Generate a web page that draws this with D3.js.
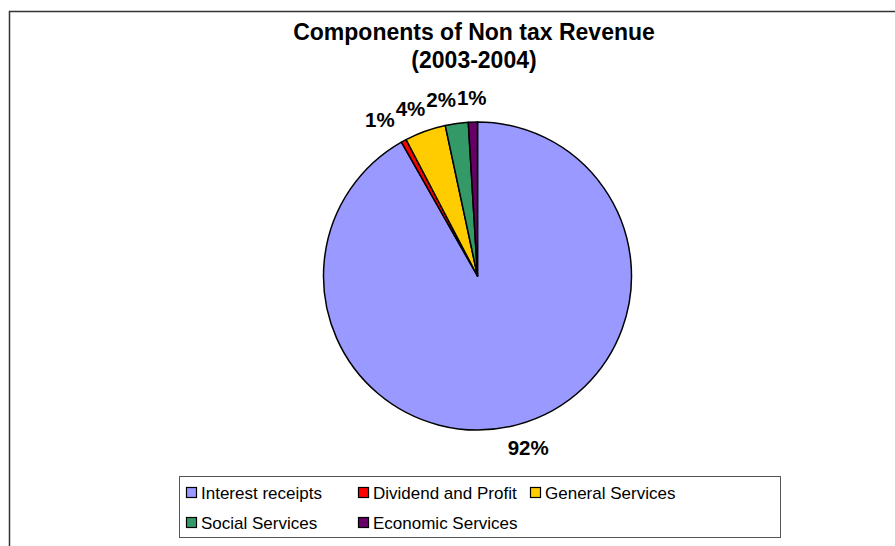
<!DOCTYPE html>
<html>
<head>
<meta charset="utf-8">
<script src="https://cdn.jsdelivr.net/npm/d3@7"></script>
<style>
  body { margin: 0; background: #fff; }
  text { font-family: "Liberation Sans", Arial, sans-serif; }
</style>
</head>
<body>
<div id="chart"></div>
<script>
// Datos (porcentaje de cada componente)
var categories = ["Interest receipts", "Dividend and Profit", "General Services", "Social Services", "Economic Services"];
var values = [91.5, 0.55, 4.3, 2.4, 0.95];
var colors = ["#9999FF", "#FF0000", "#FFCC00", "#339966", "#660066"];
var titleLines = ["Components of Non tax Revenue", "(2003-2004)"];

var width = 895, height = 546;
var cx = 477.5, cy = 276, radius = 154;

var svg = d3.select("#chart").append("svg")
    .attr("width", width)
    .attr("height", height);

// marco exterior del grafico
svg.append("rect")
    .attr("x", 9.5).attr("y", 11.5)
    .attr("width", 1000).attr("height", 1000)
    .attr("fill", "none")
    .attr("stroke", "#333")
    .attr("stroke-width", 1.5);

// titulo
svg.selectAll(".title")
    .data(titleLines)
  .enter().append("text")
    .attr("class", "title")
    .attr("x", 474)
    .attr("y", (d, i) => 40 + i * 28)
    .attr("text-anchor", "middle")
    .attr("font-size", "23px")
    .attr("font-weight", "bold")
    .text(d => d);

var total = d3.sum(values);
var data = categories.map((c, i) => ({name: c, value: values[i], color: colors[i]}));

var pie = d3.pie()
    .sort(null)
    .value(d => d.value);

var arc = d3.arc()
    .innerRadius(0)
    .outerRadius(radius);

var g = svg.append("g")
    .attr("transform", "translate(" + cx + "," + cy + ")");

var arcs = pie(data);

g.selectAll(".slice")
    .data(arcs)
  .enter().append("path")
    .attr("class", "slice")
    .attr("d", arc)
    .attr("fill", d => d.data.color)
    .attr("stroke", "#000")
    .attr("stroke-width", 1.5)
    .attr("stroke-linejoin", "round");

// etiquetas de porcentaje fuera del pastel
var labelR = radius + 24;
var fontSize = 20.5;

var lbl = g.selectAll(".lbl")
    .data(arcs)
  .enter().append("text")
    .attr("class", "lbl")
    .attr("dy", "0.36em")
    .attr("text-anchor", "middle")
    .attr("font-size", fontSize + "px")
    .attr("font-weight", "bold")
    .text(d => Math.round(d.data.value / total * 100) + "%");

var pos = [];
lbl.each(function(d) {
  var a = (d.startAngle + d.endAngle) / 2;
  var w = this.getComputedTextLength();
  var s = Math.sin(a);
  pos.push({x: labelR * s + s * w / 2, y: -labelR * Math.cos(a), w: w});
});

// separar etiquetas que se solapan (se empuja la anterior hacia la izquierda)
for (var i = pos.length - 1; i > 1; i--) {
  var a1 = pos[i - 1], b1 = pos[i];
  var overlap = (a1.w + b1.w) / 2 + 1 - (b1.x - a1.x);
  if (overlap > 0 && Math.abs(b1.y - a1.y) < fontSize) {
    a1.x -= overlap;
  }
}

lbl.attr("x", (d, i) => pos[i].x)
   .attr("y", (d, i) => pos[i].y);

// leyenda
var legend = svg.append("g");
legend.append("rect")
    .attr("x", 179.5).attr("y", 476.5)
    .attr("width", 601).attr("height", 61)
    .attr("fill", "#fff")
    .attr("stroke", "#555")
    .attr("stroke-width", 1);

var colX = d3.scalePoint().domain([0, 1, 2]).range([186, 530]);
var rowY = d3.scalePoint().domain([0, 1]).range([493, 523]);

var items = legend.selectAll(".item")
    .data(data)
  .enter().append("g")
    .attr("class", "item")
    .attr("transform", (d, i) => "translate(" + colX(i % 3) + "," + rowY(Math.floor(i / 3)) + ")");

items.append("rect")
    .attr("x", 0.5).attr("y", -5.5)
    .attr("width", 10).attr("height", 10)
    .attr("fill", d => d.color)
    .attr("stroke", "#000")
    .attr("stroke-width", 1.2);

items.append("text")
    .attr("x", 15)
    .attr("y", 0)
    .attr("dy", "0.36em")
    .attr("font-size", "17px")
    .text(d => d.name);
</script>
</body>
</html>
